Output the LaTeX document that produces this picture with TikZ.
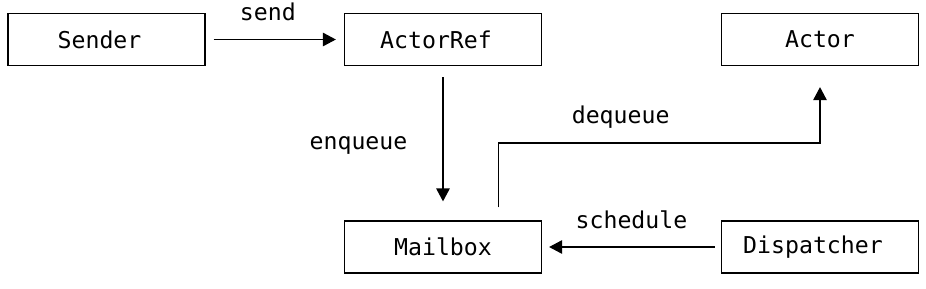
\documentclass[tikz,border=0pt]{standalone}
\usepackage{fontspec}
\setmonofont{DejaVu Sans Mono}
\usepackage{tikz}
\usetikzlibrary{arrows.meta}
\tikzset{
  >={Triangle[length=2.6mm, width=2.7mm]},
  box/.style={draw, line width=0.7pt, minimum width=3.94cm, minimum height=1.04cm, inner sep=0pt, font=\ttfamily\fontsize{13.2pt}{15pt}\selectfont},
  lbl/.style={font=\ttfamily\fontsize{13.2pt}{15pt}\selectfont, inner sep=0pt, anchor=base},
  flow/.style={->, line width=0.7pt},
}
% even-length names sit half a character left of centre
\newcommand{\halfleft}[1]{#1\phantom{x}}

\begin{document}
\begin{tikzpicture}
  \useasboundingbox (0,0) rectangle (18.52,-5.76);

  \node[box] (sender)     at (2.13,-0.79)  {\halfleft{Sender}};
  \node[box] (actorref)   at (8.86,-0.79)  {\halfleft{ActorRef}};
  \node[box] (actor)      at (16.4,-0.79)  {Actor};
  \node[box] (mailbox)    at (8.86,-4.94)  {Mailbox};
  \node[box] (dispatcher) at (16.4,-4.94)  {\halfleft{Dispatcher}};

  \draw[flow, shorten <=0.16cm, shorten >=0.16cm] (sender) -- node[lbl, pos=0.45, yshift=0.38cm]{send} (actorref);
  \draw[flow, shorten <=0.22cm, shorten >=0.38cm] (actorref) -- node[lbl, pos=0.54, anchor=base east, xshift=-0.7cm]{enqueue} (mailbox);
  \draw[flow] ([xshift=1.11cm, yshift=0.26cm]mailbox.north) -- ++(0,1.29)
    -| node[lbl, pos=0.19, yshift=0.38cm]{dequeue} ([yshift=-0.42cm]actor.south);
  \draw[flow, shorten <=0.12cm, shorten >=0.14cm] (dispatcher) -- node[lbl, yshift=0.38cm]{schedule} (mailbox);
\end{tikzpicture}
\end{document}
